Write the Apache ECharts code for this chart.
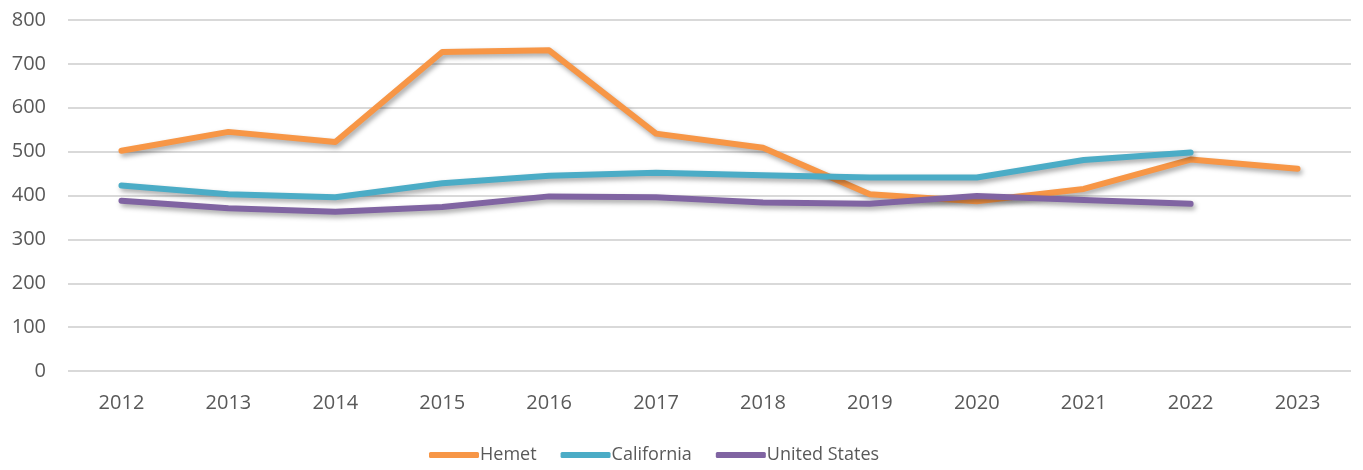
<!DOCTYPE html>
<html>
<head>
<meta charset="UTF-8">
<title>Hemet vs California vs United States</title>
<script src="https://cdn.jsdelivr.net/npm/echarts@6/dist/echarts.min.js"></script>
<style>
	html, body { margin: 0; padding: 0; background: #fff; }
	#chart { width: 1363px; height: 470px; }
</style>
</head>
<body>
<div id="chart"></div>
<script>
var years = ['2012', '2013', '2014', '2015', '2016', '2017', '2018', '2019', '2020', '2021', '2022', '2023'];
var hemet = [502, 545, 522, 727, 731, 541, 509, 403, 387, 415, 482, 461];
var california = [423, 403, 396, 428, 445, 452, 446, 441, 441, 481, 498];
var unitedStates = [388, 371, 363, 374, 398, 396, 384, 381, 399, 390, 381];

var chart = echarts.init(document.getElementById('chart'));

function lineSeries(name, data, color) {
	return {
		name: name,
		type: 'line',
		data: data,
		symbol: 'none',
		lineStyle: {
			width: 6,
			color: color,
			cap: 'round',
			join: 'round',
			shadowColor: 'rgba(0,0,0,0.35)',
			shadowBlur: 5,
			shadowOffsetX: 2,
			shadowOffsetY: 3
		},
		itemStyle: { color: color }
	};
}

var option = {
	animation: false,
	grid: { left: 68, right: 12, top: 20, bottom: 99 },
	legend: {
		bottom: 1,
		left: 424,
		itemWidth: 50,
		itemHeight: 6,
		itemGap: 24,
		icon: 'roundRect',
		textStyle: { color: '#595959', fontSize: 18, fontFamily: 'Open Sans', padding: [0, 0, 0, -4] },
		data: ['Hemet', 'California', 'United States']
	},
	xAxis: {
		type: 'category',
		data: years,
		boundaryGap: true,
		axisLine: { show: false },
		axisTick: { show: false },
		axisLabel: { color: '#595959', fontSize: 20, fontFamily: 'Open Sans', margin: 22 }
	},
	yAxis: {
		type: 'value',
		min: 0,
		max: 800,
		interval: 100,
		axisLine: { show: false },
		axisTick: { show: false },
		axisLabel: { color: '#595959', fontSize: 20, fontFamily: 'Open Sans', margin: 22 },
		splitLine: { lineStyle: { color: '#d9d9d9', width: 2 } }
	},
	series: [
		lineSeries('Hemet', hemet, '#F79646'),
		lineSeries('California', california, '#4BACC6'),
		lineSeries('United States', unitedStates, '#8064A2')
	]
};

chart.setOption(option);
</script>
</body>
</html>
